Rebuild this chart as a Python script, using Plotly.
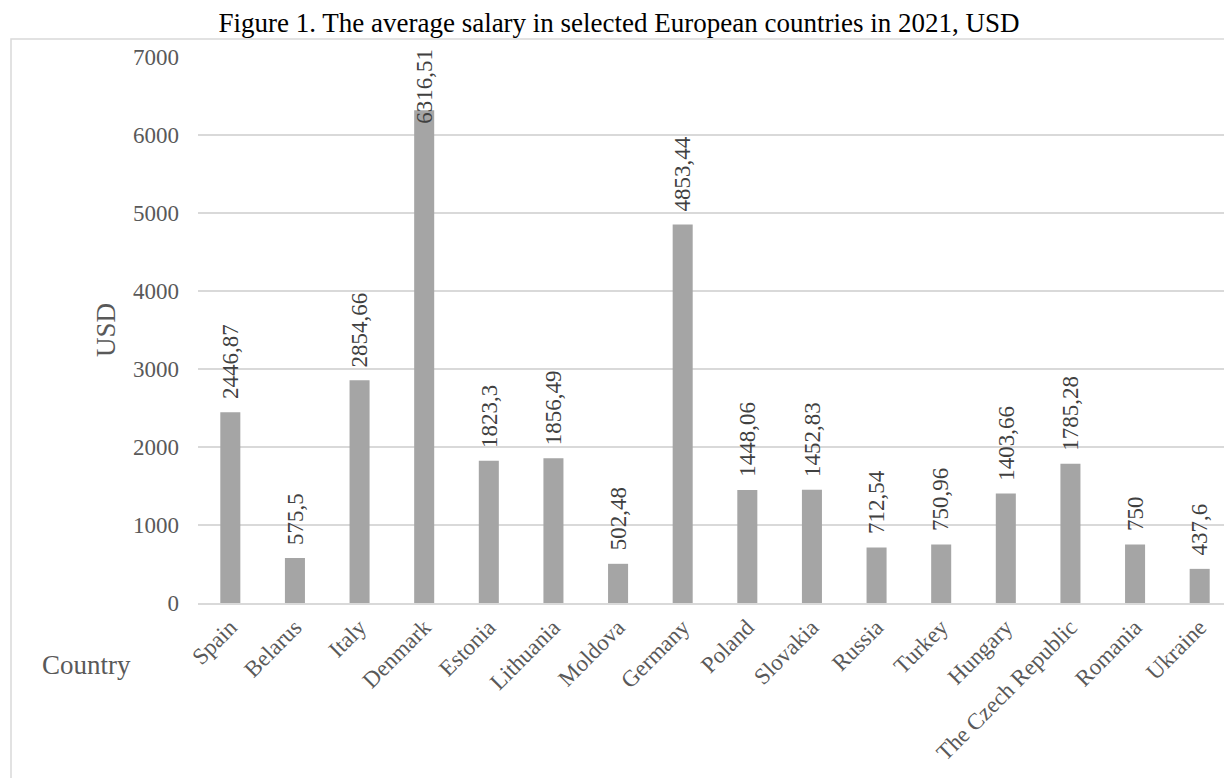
import plotly.graph_objects as go

countries = ["Spain", "Belarus", "Italy", "Denmark", "Estonia", "Lithuania", "Moldova",
             "Germany", "Poland", "Slovakia", "Russia", "Turkey", "Hungary",
             "The Czech Republic", "Romania", "Ukraine"]
salaries = [2446.87, 575.5, 2854.66, 6316.51, 1823.3, 1856.49, 502.48,
            4853.44, 1448.06, 1452.83, 712.54, 750.96, 1403.66,
            1785.28, 750, 437.6]
value_labels = ["2446,87", "575,5", "2854,66", "6316,51", "1823,3", "1856,49", "502,48",
                "4853,44", "1448,06", "1452,83", "712,54", "750,96", "1403,66",
                "1785,28", "750", "437,6"]
y_ticks = [0, 1000, 2000, 3000, 4000, 5000, 6000, 7000]

TITLE = "Figure 1. The average salary in selected European countries in 2021, USD"
FONT = "Liberation Serif"

# page body has an 8px margin; figure is sized so the plot lands where the reference has it
OFF = 8
W, H = 1224, 770
ML, MR, MT, MB = 190, 0, 49, 175
plot_w = W - ML - MR
plot_h = H - MT - MB
Y_MAX = 7000
px_per_unit = plot_h / Y_MAX
label_font = 23

fig = go.Figure()
fig.add_trace(go.Bar(
    x=countries, y=salaries,
    marker=dict(color="#a5a5a5", line=dict(width=0)),
    hoverinfo="x+y",
))

annotations = []
for c, v, t in zip(countries, salaries, value_labels):
    est_len = len(t) * label_font * 0.5 + 20
    if v * px_per_unit + est_len > plot_h + 5:
        annotations.append(dict(x=c, y=Y_MAX, xref="x", yref="y", text=t, textangle=-90,
                                showarrow=False, yanchor="top", yshift=10,
                                font=dict(family=FONT, size=label_font, color="#404040")))
    else:
        annotations.append(dict(x=c, y=v, xref="x", yref="y", text=t, textangle=-90,
                                showarrow=False, yanchor="bottom", yshift=11,
                                font=dict(family=FONT, size=label_font, color="#404040")))

# "Country" axis caption at page px (86, 665)
annotations.append(dict(x=(86 - OFF - ML) / plot_w, y=(H - MB - (665 - OFF)) / plot_h,
                        xref="paper", yref="paper", text="Country", showarrow=False,
                        xanchor="center", yanchor="middle",
                        font=dict(family=FONT, size=27, color="#595959")))

fig.update_layout(
    width=W, height=H,
    margin=dict(l=ML, r=MR, t=MT, b=MB, autoexpand=False),
    paper_bgcolor="white", plot_bgcolor="white",
    bargap=0.69,
    showlegend=False,
    font=dict(family=FONT, color="#595959"),
    title=dict(text=TITLE, x=(619 - OFF) / W, xref="container", xanchor="center",
               y=1 - (23 - OFF) / H, yref="container", yanchor="middle",
               font=dict(family=FONT, size=27, color="black")),
    xaxis=dict(tickangle=-45, tickfont=dict(family=FONT, size=23, color="#595959"),
               showgrid=False, showline=True, linecolor="#d9d9d9", linewidth=1.5,
               ticks="", automargin=False),
    yaxis=dict(range=[0, Y_MAX], tickvals=y_ticks, ticktext=[str(v) for v in y_ticks],
               tickfont=dict(family=FONT, size=23, color="#595959"),
               showgrid=True, gridcolor="#d9d9d9", gridwidth=1.5,
               zeroline=False, showline=False, ticks="", ticklabelstandoff=18,
               title=dict(text="USD", standoff=9, font=dict(family=FONT, size=27, color="#595959")),
               automargin=False),
    annotations=annotations,
    shapes=[dict(type="rect", xref="paper", yref="paper",
                 x0=(11 - OFF - ML) / plot_w, x1=1.05,
                 y0=-0.4, y1=(H - MB - (39 - OFF)) / plot_h,
                 line=dict(color="#d9d9d9", width=1.5), fillcolor="rgba(0,0,0,0)",
                 layer="below")],
)

fig.write_html("out.html")
